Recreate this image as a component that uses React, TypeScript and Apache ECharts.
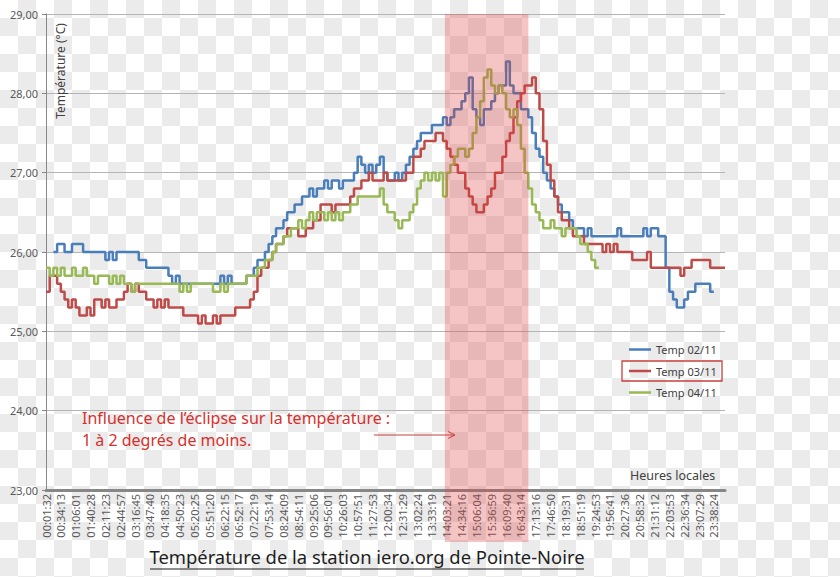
import React, { useEffect, useRef } from 'react';
import * as echarts from 'echarts';

const tickLabels = [
  '00:01:32', '00:34:13', '01:06:01', '01:40:28', '02:11:23', '02:44:57', '03:16:45', '03:47:40',
  '04:18:35', '04:50:23', '05:20:25', '05:51:20', '06:22:15', '06:52:17', '07:22:19', '07:53:14',
  '08:24:09', '08:54:11', '09:25:06', '09:56:01', '10:26:03', '10:57:51', '11:27:53', '12:00:34',
  '12:31:29', '13:02:24', '13:33:19', '14:03:21', '14:34:16', '15:06:04', '15:36:59', '16:09:40',
  '16:43:14', '17:13:16', '17:46:50', '18:19:31', '18:51:19', '19:24:53', '19:56:41', '20:27:36',
  '20:58:32', '21:31:12', '22:03:53', '22:36:34', '23:07:29', '23:38:24',
];

const pointsPerLabel = 4;

const temp0211 = [
  null, null, 26.0, 26.1, 26.1, 26.0, 26.0, 26.1,
  26.1, 26.1, 26.0, 26.0, 26.0, 26.0, 26.0, 26.0,
  25.9, 26.0, 25.9, 26.0, 26.0, 26.0, 26.0, 26.0,
  26.0, 25.9, 25.9, 25.8, 25.8, 25.8, 25.8, 25.8,
  25.8, 25.7, 25.6, 25.7, 25.6, 25.6, 25.6, 25.6,
  25.6, 25.6, 25.6, 25.6, 25.6, 25.6, 25.6, 25.7,
  25.6, 25.7, 25.6, 25.6, 25.6, 25.6, 25.7, 25.7,
  25.8, 25.9, 25.9, 26.0, 26.1, 26.2, 26.3, 26.3,
  26.4, 26.5, 26.5, 26.6, 26.6, 26.7, 26.7, 26.8,
  26.7, 26.8, 26.8, 26.9, 26.8, 26.9, 26.9, 26.8,
  26.9, 26.9, 26.9, 27.0, 27.2, 27.1, 27.0, 27.1,
  27.0, 27.1, 27.2, 27.0, 26.9, 26.9, 27.0, 26.9,
  27.0, 27.1, 27.2, 27.3, 27.4, 27.5, 27.5, 27.5,
  27.6, 27.6, 27.6, 27.7, 27.6, 27.7, 27.8, 27.8,
  27.9, 28.0, 28.2, 27.8, 27.7, 27.6, 27.8, 27.8,
  27.9, 28.0, 28.1, 28.1, 28.4, 28.1, 28.0, 28.0,
  27.8, 27.8, 27.7, 27.5, 27.3, 27.2, 27.0, 26.9,
  26.8, 26.7, 26.6, 26.5, 26.5, 26.4, 26.3, 26.3,
  26.3, 26.2, 26.3, 26.2, 26.2, 26.2, 26.2, 26.2,
  26.2, 26.2, 26.3, 26.2, 26.2, 26.2, 26.2, 26.2,
  26.2, 26.3, 26.2, 26.3, 26.3, 26.2, 26.2, 25.8,
  25.5, 25.4, 25.3, 25.3, 25.4, 25.5, 25.5, 25.6,
  25.6, 25.6, 25.6, 25.5, null, null, null, null,
];

const temp0311 = [
  25.5, 25.7, 25.7, 25.6, 25.5, 25.4, 25.3, 25.4,
  25.3, 25.2, 25.2, 25.3, 25.2, 25.4, 25.4, 25.3,
  25.4, 25.3, 25.3, 25.4, 25.4, 25.5, 25.6, 25.5,
  25.6, 25.5, 25.5, 25.4, 25.4, 25.3, 25.4, 25.3,
  25.4, 25.3, 25.3, 25.3, 25.3, 25.2, 25.2, 25.2,
  25.2, 25.1, 25.2, 25.1, 25.1, 25.2, 25.1, 25.2,
  25.2, 25.2, 25.2, 25.3, 25.3, 25.3, 25.3, 25.4,
  25.5, 25.7, 25.8, 25.8, 25.9, 26.0, 26.1, 26.1,
  26.2, 26.3, 26.3, 26.3, 26.2, 26.2, 26.3, 26.3,
  26.4, 26.4, 26.6, 26.6, 26.6, 26.5, 26.6, 26.6,
  26.6, 26.6, 26.7, 26.8, 26.8, 26.9, 26.9, 27.0,
  26.9, 26.9, 26.9, 27.0, 26.9, 26.9, 26.9, 26.9,
  26.9, 27.0, 27.0, 27.2, 27.2, 27.3, 27.4, 27.4,
  27.4, 27.5, 27.5, 27.4, 27.3, 27.2, 27.1, 27.0,
  27.0, 26.8, 26.7, 26.6, 26.5, 26.5, 26.6, 26.7,
  26.8, 27.0, 27.0, 27.2, 27.4, 27.5, 27.7, 27.9,
  28.0, 28.1, 28.1, 28.2, 28.0, 27.8, 27.4, 27.1,
  26.9, 26.7, 26.5, 26.4, 26.4, 26.3, 26.2, 26.2,
  26.2, 26.1, 26.1, 26.1, 26.1, 26.1, 26.0, 26.1,
  26.0, 26.1, 26.0, 26.0, 26.0, 26.0, 25.9, 25.9,
  25.9, 25.9, 26.0, 25.8, 25.8, 25.8, 25.8, 25.8,
  25.8, 25.8, 25.8, 25.7, 25.8, 25.8, 25.9, 25.9,
  25.9, 25.9, 25.9, 25.8, 25.8, 25.8, 25.8, 25.8,
];

const temp0411 = [
  25.8, 25.7, 25.8, 25.7, 25.8, 25.7, 25.7, 25.8,
  25.7, 25.7, 25.8, 25.7, 25.7, 25.6, 25.7, 25.7,
  25.7, 25.6, 25.7, 25.6, 25.7, 25.6, 25.6, 25.5,
  25.6, 25.6, 25.6, 25.6, 25.6, 25.6, 25.6, 25.6,
  25.6, 25.6, 25.6, 25.6, 25.5, 25.6, 25.5, 25.6,
  25.6, 25.6, 25.6, 25.6, 25.6, 25.5, 25.5, 25.6,
  25.5, 25.6, 25.6, 25.6, 25.6, 25.6, 25.7, 25.7,
  25.7, 25.8, 25.8, 25.9, 25.9, 26.0, 26.1, 26.1,
  26.2, 26.2, 26.3, 26.3, 26.4, 26.3, 26.4, 26.5,
  26.4, 26.5, 26.5, 26.4, 26.5, 26.4, 26.5, 26.4,
  26.5, 26.5, 26.6, 26.6, 26.7, 26.7, 26.7, 26.7,
  26.7, 26.7, 26.8, 26.6, 26.5, 26.5, 26.4, 26.3,
  26.4, 26.4, 26.5, 26.6, 26.8, 26.9, 27.0, 26.9,
  27.0, 26.9, 27.0, 26.7, 27.0, 27.1, 27.2, 27.3,
  27.3, 27.2, 27.3, 27.5, 27.7, 27.9, 28.2, 28.3,
  28.1, 28.0, 28.1, 28.0, 27.8, 27.7, 27.8, 27.6,
  27.3, 27.0, 26.8, 26.6, 26.5, 26.4, 26.3, 26.3,
  26.4, 26.3, 26.3, 26.2, 26.3, 26.3, 26.3, 26.2,
  26.1, 26.1, 26.0, 25.9, 25.8, null, null, null,
  null, null, null, null, null, null, null, null,
  null, null, null, null, null, null, null, null,
  null, null, null, null, null, null, null, null,
  null, null, null, null, null, null, null, null,
];

const seriesNames = ['Temp 02/11', 'Temp 03/11', 'Temp 04/11'];
const seriesColors = ['#4a7ebb', '#be4b48', '#98b954'];

// eclipse band, expressed as positions on the category axis
const eclipseStartPos = 107.5;
const eclipseEndPos = 130;

const yMin = 23;
const yMax = 29;
const yStep = 1;

const FONT = "'Noto Sans', 'Open Sans', sans-serif";

export default function App() {
  const ref = useRef<HTMLDivElement>(null);

  useEffect(() => {
    if (!ref.current) return;
    const chart = echarts.init(ref.current, null, { renderer: 'svg' });

    const categories: string[] = [];
    tickLabels.forEach((l) => {
      categories.push(l);
      for (let k = 1; k < pointsPerLabel; k++) categories.push('');
    });

    const allData = [temp0211, temp0311, temp0411];

    chart.setOption({
      animation: false,
      grid: { left: 46, right: 115, top: 14, bottom: 87 },
      xAxis: {
        type: 'category',
        data: categories,
        boundaryGap: false,
        axisLine: { lineStyle: { color: '#878787', width: 3 } },
        axisTick: { show: false },
        axisLabel: {
          interval: pointsPerLabel - 1,
          rotate: 90,
          fontSize: 11,
          color: '#595959',
          fontFamily: FONT,
          margin: 4,
        },
        splitLine: { show: false },
      },
      yAxis: {
        type: 'value',
        min: yMin,
        max: yMax,
        interval: yStep,
        axisLine: { show: true, lineStyle: { color: '#878787', width: 1 } },
        axisTick: { show: true, length: 4, lineStyle: { color: '#878787' } },
        axisLabel: {
          formatter: (v: number) => v.toFixed(2).replace('.', ','),
          fontSize: 11,
          color: '#595959',
          fontFamily: FONT,
          margin: 8,
        },
        splitLine: { lineStyle: { color: '#b5b5b5', width: 1 } },
      },
      legend: {
        orient: 'vertical',
        left: 624,
        top: 339,
        icon: 'rect',
        itemWidth: 22,
        itemHeight: 2.5,
        itemGap: 10.5,
        textStyle: { fontSize: 11, color: '#404040', fontFamily: FONT },
        data: seriesNames,
      },
      series: allData.map((d, i) => ({
        type: 'line',
        name: seriesNames[i],
        data: d,
        step: 'end',
        symbol: 'none',
        lineStyle: { color: seriesColors[i], width: 2.5 },
        itemStyle: { color: seriesColors[i] },
        z: 3,
      })),
    });

    const x0 = chart.convertToPixel({ xAxisIndex: 0 }, 0) as number;
    const xN = chart.convertToPixel({ xAxisIndex: 0 }, categories.length - 1) as number;
    const stepPx = (xN - x0) / (categories.length - 1);
    const bandLeft = x0 + stepPx * eclipseStartPos;
    const bandRight = x0 + stepPx * eclipseEndPos;
    const yTop = chart.convertToPixel({ yAxisIndex: 0 }, yMax) as number;

    chart.setOption({
      graphic: [
        {
          type: 'rect',
          z: 50,
          shape: { x: bandLeft, y: yTop, width: bandRight - bandLeft, height: 542 - yTop },
          style: { fill: 'rgba(222, 60, 60, 0.3)' },
          silent: true,
        },
        {
          type: 'text',
          z: 60,
          x: 60,
          y: 71,
          rotation: Math.PI / 2,
          style: {
            text: 'Température (°C)',
            fontSize: 12,
            fontFamily: FONT,
            fill: '#404040',
            textAlign: 'center',
            textVerticalAlign: 'middle',
          },
        },
        {
          type: 'rect',
          z: 60,
          shape: { x: 622, y: 361, width: 100, height: 20 },
          style: { fill: 'none', stroke: '#c8403c', lineWidth: 1.3 },
        },
        {
          type: 'text',
          z: 60,
          x: 82,
          y: 418,
          style: {
            text: 'Influence de l’éclipse sur la température :',
            fontSize: 16,
            fontFamily: FONT,
            fill: '#d8302c',
            textVerticalAlign: 'middle',
          },
        },
        {
          type: 'text',
          z: 60,
          x: 82,
          y: 440,
          style: {
            text: '1 à 2 degrés de moins.',
            fontSize: 16,
            fontFamily: FONT,
            fill: '#d8302c',
            textVerticalAlign: 'middle',
          },
        },
        {
          type: 'line',
          z: 60,
          shape: { x1: 374, y1: 435, x2: 454, y2: 435 },
          style: { stroke: '#c8403c', lineWidth: 1 },
        },
        {
          type: 'polyline',
          z: 60,
          shape: { points: [[448, 431.5], [455, 435], [448, 438.5]] },
          style: { stroke: '#c8403c', lineWidth: 1, fill: 'none' },
        },
        {
          type: 'text',
          z: 60,
          x: 630,
          y: 475,
          style: {
            text: 'Heures locales',
            fontSize: 12.5,
            fontFamily: FONT,
            fill: '#404040',
            textVerticalAlign: 'middle',
          },
        },
        {
          type: 'text',
          z: 60,
          x: 367,
          y: 556,
          style: {
            text: 'Température de la station iero.org de Pointe-Noire',
            fontSize: 18.4,
            fontFamily: FONT,
            fill: '#1e1e1e',
            textAlign: 'center',
            textVerticalAlign: 'middle',
          },
        },
        {
          type: 'line',
          z: 60,
          shape: { x1: 150, y1: 569, x2: 584, y2: 569 },
          style: { stroke: '#1e1e1e', lineWidth: 1.2 },
        },
      ],
    });

    return () => {
      chart.dispose();
    };
  }, []);

  return (
    <div
      ref={ref}
      style={{
        position: 'absolute',
        left: 0,
        top: 0,
        width: 840,
        height: 577,
        backgroundColor: '#ffffff',
        backgroundImage:
          'conic-gradient(#ebebeb 0 25%, #ffffff 0 50%, #ebebeb 0 75%, #ffffff 0)',
        backgroundSize: '36px 36px',
      }}
    />
  );
}
